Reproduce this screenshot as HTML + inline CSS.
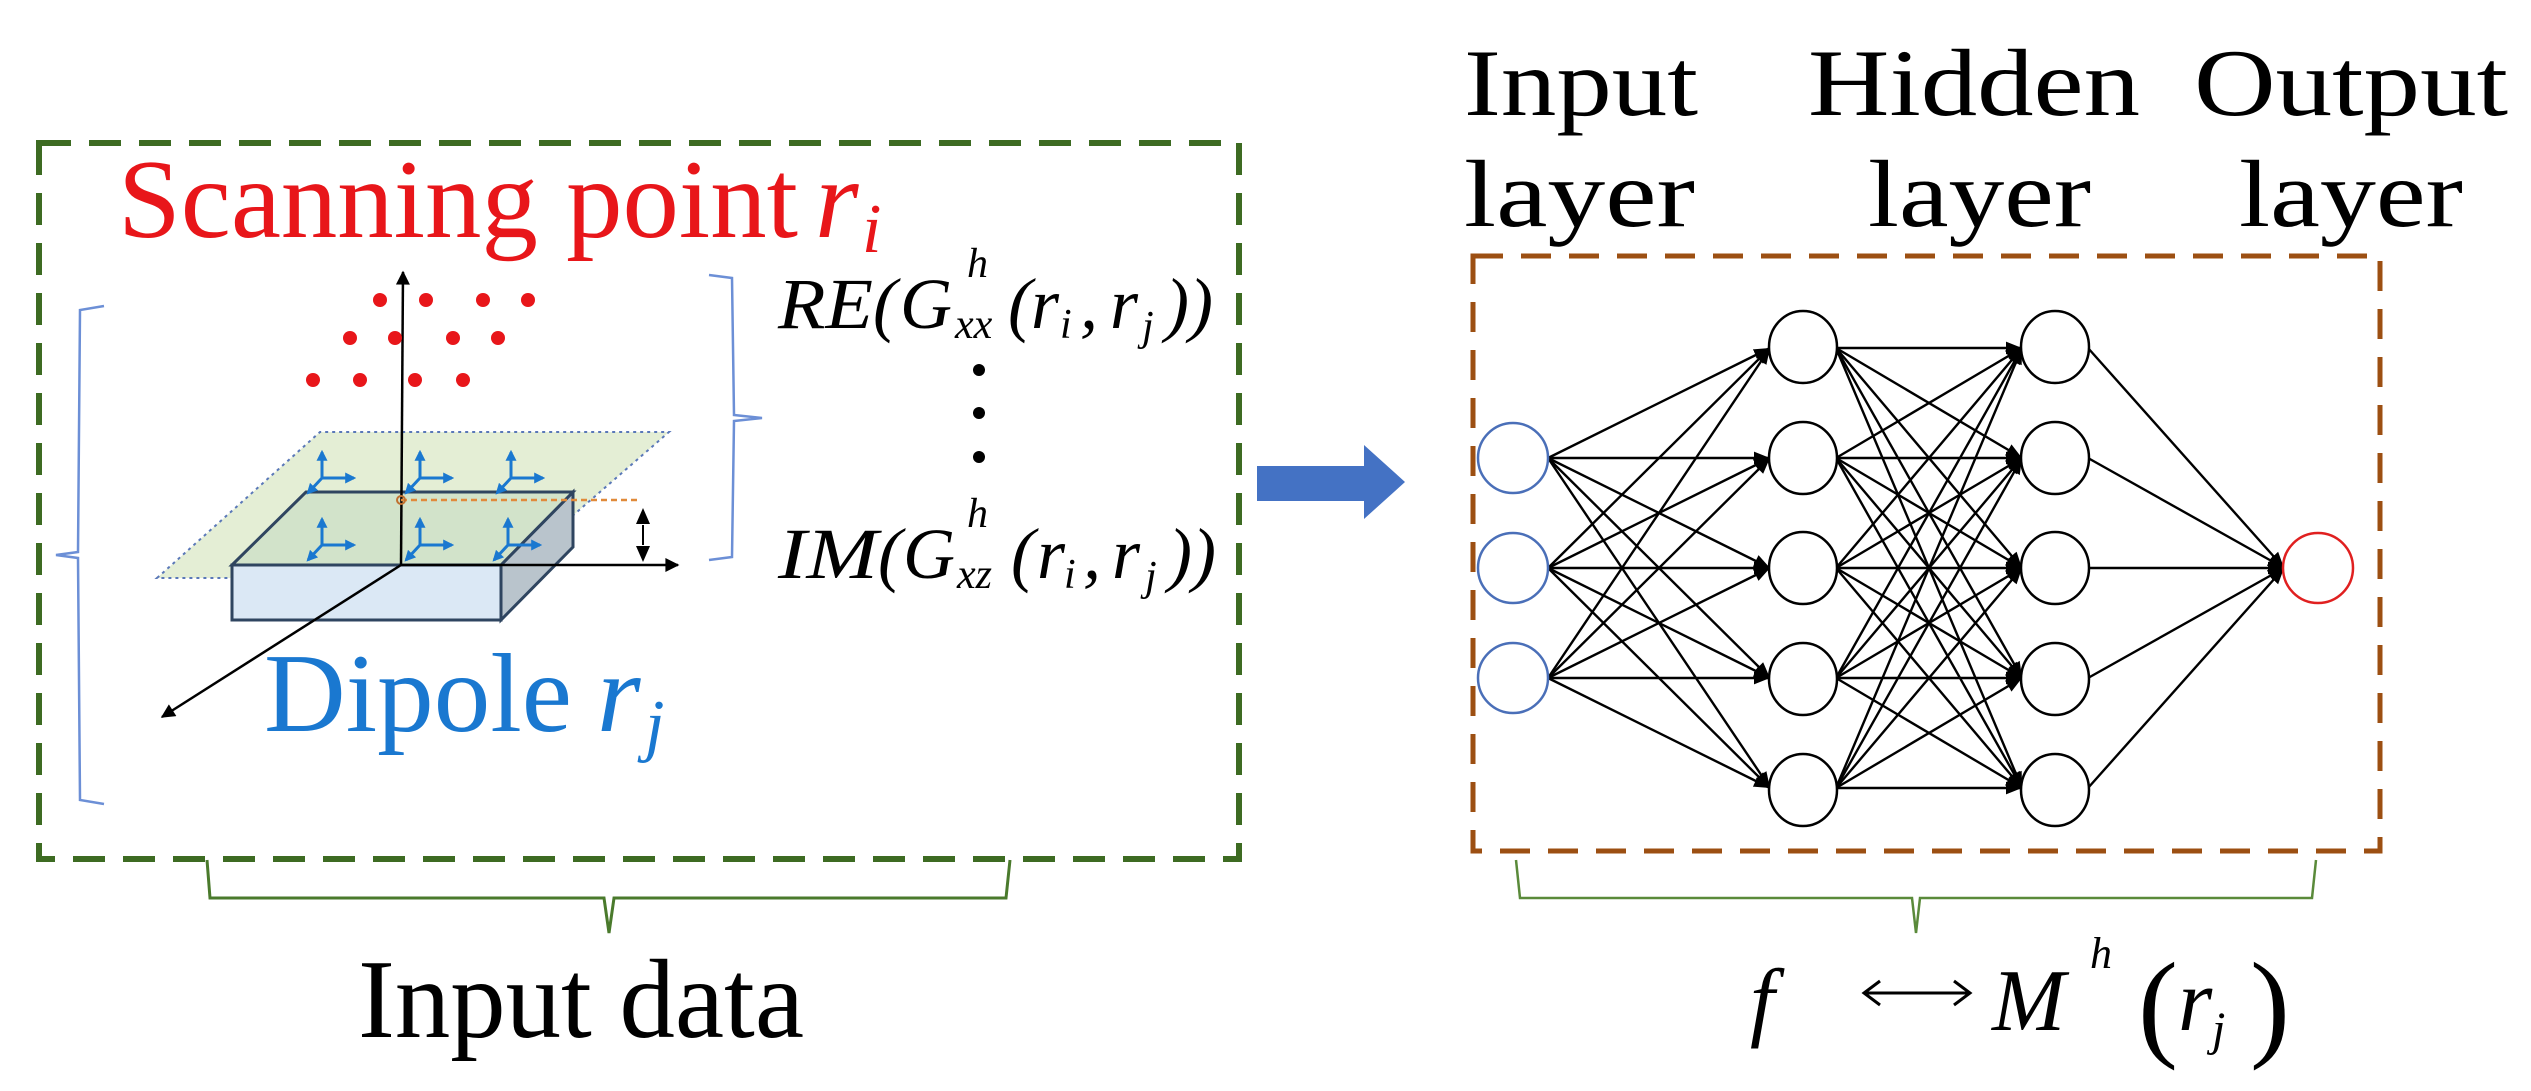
<!DOCTYPE html>
<html><head><meta charset="utf-8"><style>
html,body{margin:0;padding:0;background:#fff;}
svg{display:block;}
</style></head><body>
<svg width="2531" height="1091" viewBox="0 0 2531 1091" xmlns="http://www.w3.org/2000/svg" font-family="'Liberation Serif', 'DejaVu Serif', serif">
<defs>
<marker id="ax" viewBox="0 0 10 10" refX="9" refY="5" markerWidth="16" markerHeight="14" orient="auto" markerUnits="userSpaceOnUse"><path d="M0,0 L10,5 L0,10 z" fill="#000"/></marker>
<marker id="bl" viewBox="0 0 10 10" refX="8" refY="5" markerWidth="11" markerHeight="11" orient="auto" markerUnits="userSpaceOnUse"><path d="M0,0 L10,5 L0,10 z" fill="#1a78d0"/></marker>
<marker id="nh" viewBox="0 0 10 10" refX="10" refY="5" markerWidth="16" markerHeight="16" orient="auto" markerUnits="userSpaceOnUse"><path d="M0,1 L10,5 L0,9 z" fill="#000"/></marker>
</defs>

<!-- left green dashed box -->
<rect x="39" y="143" width="1200" height="716" fill="none" stroke="#3d6b22" stroke-width="6" stroke-dasharray="32,18"/>
<path d="M207,860 L210,898 L604,898 L609,933 L614,898 L1006,898 L1010,860" fill="none" stroke="#4a7a2c" stroke-width="3"/>
<text x="358" y="1037" font-size="112" fill="#000" textLength="446" lengthAdjust="spacingAndGlyphs">Input data</text>

<!-- Scanning point -->
<text x="118" y="237" font-size="112" fill="#e8161a" textLength="680" lengthAdjust="spacingAndGlyphs">Scanning point</text>
<text x="815" y="237" font-size="112" fill="#e8161a" font-style="italic">r</text>
<text x="862" y="252" font-size="70" fill="#e8161a" font-style="italic">i</text>

<!-- blue brackets -->
<path d="M104,306 L80,310 L78,552 L56,555 L78,558 L80,800 L104,804" fill="none" stroke="#6c8fd6" stroke-width="2.5"/>
<path d="M709,275 L732,278 L734,415 L762,418 L734,421 L732,557 L709,560" fill="none" stroke="#6c8fd6" stroke-width="2.5"/>

<!-- plane & slab -->
<polygon points="157,578 320,432 669,432 501,578" fill="#e4eed5" stroke="#5a78b8" stroke-width="2" stroke-dasharray="3,4"/>
<polygon points="232,565 501,565 501,620 232,620" fill="#dbe8f5" stroke="#2f4560" stroke-width="3"/>
<polygon points="501,565 573,492 573,547 501,620" fill="#b9c4cc" stroke="#2f4560" stroke-width="3"/>
<polygon points="232,565 306,492 573,492 501,565" fill="#cfe0c8" fill-opacity="0.85" stroke="#2f4560" stroke-width="3"/>

<line x1="401" y1="565" x2="403" y2="272" stroke="#000" stroke-width="2.5" marker-end="url(#ax)"/>
<line x1="401" y1="565" x2="678" y2="565" stroke="#000" stroke-width="2.5" marker-end="url(#ax)"/>
<line x1="401" y1="565" x2="162" y2="717" stroke="#000" stroke-width="2.5" marker-end="url(#ax)"/>
<line x1="401" y1="500" x2="641" y2="500" stroke="#e08a3a" stroke-width="2.5" stroke-dasharray="6,4"/>
<circle cx="401" cy="500" r="4" fill="none" stroke="#c07030" stroke-width="2"/>
<line x1="643" y1="525" x2="643" y2="545" stroke="#000" stroke-width="2"/>
<path d="M636,524 L643,508 L650,524 z M636,546 L643,562 L650,546 z" fill="#000"/>

<g stroke="#1a78d0" stroke-width="3" fill="none">
<line x1="322" y1="478" x2="322" y2="452" marker-end="url(#bl)"/><line x1="322" y1="478" x2="354" y2="478" marker-end="url(#bl)"/><line x1="322" y1="478" x2="308" y2="493" marker-end="url(#bl)"/>
<line x1="420" y1="478" x2="420" y2="452" marker-end="url(#bl)"/><line x1="420" y1="478" x2="452" y2="478" marker-end="url(#bl)"/><line x1="420" y1="478" x2="406" y2="493" marker-end="url(#bl)"/>
<line x1="511" y1="478" x2="511" y2="452" marker-end="url(#bl)"/><line x1="511" y1="478" x2="543" y2="478" marker-end="url(#bl)"/><line x1="511" y1="478" x2="497" y2="493" marker-end="url(#bl)"/>
<line x1="322" y1="545" x2="322" y2="519" marker-end="url(#bl)"/><line x1="322" y1="545" x2="354" y2="545" marker-end="url(#bl)"/><line x1="322" y1="545" x2="308" y2="560" marker-end="url(#bl)"/>
<line x1="420" y1="545" x2="420" y2="519" marker-end="url(#bl)"/><line x1="420" y1="545" x2="452" y2="545" marker-end="url(#bl)"/><line x1="420" y1="545" x2="406" y2="560" marker-end="url(#bl)"/>
<line x1="508" y1="545" x2="508" y2="519" marker-end="url(#bl)"/><line x1="508" y1="545" x2="540" y2="545" marker-end="url(#bl)"/><line x1="508" y1="545" x2="494" y2="560" marker-end="url(#bl)"/>
</g>

<g fill="#e8161a">
<circle cx="380" cy="300" r="7"/><circle cx="426" cy="300" r="7"/><circle cx="483" cy="300" r="7"/><circle cx="528" cy="300" r="7"/>
<circle cx="350" cy="338" r="7"/><circle cx="395" cy="338" r="7"/><circle cx="453" cy="338" r="7"/><circle cx="498" cy="338" r="7"/>
<circle cx="313" cy="380" r="7"/><circle cx="360" cy="380" r="7"/><circle cx="415" cy="380" r="7"/><circle cx="463" cy="380" r="7"/>
</g>

<text x="264" y="731" font-size="112" fill="#1a78d0" textLength="308" lengthAdjust="spacingAndGlyphs">Dipole</text>
<text x="597" y="731" font-size="112" fill="#1a78d0" font-style="italic">r</text>
<text x="645" y="748" font-size="70" fill="#1a78d0" font-style="italic">j</text>

<!-- formulas -->
<g font-style="italic" fill="#000" font-size="72">
<text x="778" y="328" textLength="95" lengthAdjust="spacingAndGlyphs">RE</text>
<text x="873" y="328">(</text><text x="900" y="328">G</text>
<text x="955" y="338" font-size="42">xx</text><text x="967" y="277" font-size="42">h</text>
<text x="1008" y="328">(</text><text x="1031" y="328">r</text><text x="1060" y="338" font-size="42">i</text>
<text x="1080" y="328">,</text><text x="1110" y="328">r</text><text x="1142" y="340" font-size="42">j</text>
<text x="1165" y="328">))</text>

<text x="778" y="578" textLength="100" lengthAdjust="spacingAndGlyphs">IM</text>
<text x="878" y="578">(</text><text x="903" y="578">G</text>
<text x="957" y="588" font-size="42">xz</text><text x="967" y="527" font-size="42">h</text>
<text x="1011" y="578">(</text><text x="1037" y="578">r</text><text x="1064" y="588" font-size="42">i</text>
<text x="1083" y="578">,</text><text x="1112" y="578">r</text><text x="1145" y="590" font-size="42">j</text>
<text x="1168" y="578">))</text>
</g>
<circle cx="979" cy="370" r="6" fill="#000"/><circle cx="979" cy="413" r="6" fill="#000"/><circle cx="979" cy="457" r="6" fill="#000"/>

<polygon points="1257,466 1364,466 1364,445 1405,482 1364,519 1364,501 1257,501" fill="#4472c4"/>

<g font-size="95" fill="#000">
<text x="1464" y="115" textLength="234" lengthAdjust="spacingAndGlyphs">Input</text>
<text x="1464" y="226" textLength="231" lengthAdjust="spacingAndGlyphs">layer</text>
<text x="1808" y="115" textLength="332" lengthAdjust="spacingAndGlyphs">Hidden</text>
<text x="1868" y="226" textLength="223" lengthAdjust="spacingAndGlyphs">layer</text>
<text x="2194" y="115" textLength="314" lengthAdjust="spacingAndGlyphs">Output</text>
<text x="2239" y="226" textLength="224" lengthAdjust="spacingAndGlyphs">layer</text>
</g>

<rect x="1473" y="256" width="907" height="595" fill="none" stroke="#9c4f12" stroke-width="5" stroke-dasharray="30,18"/>

<g stroke="#000" stroke-width="2.4" marker-end="url(#nh)">
<line x1="1548" y1="458" x2="1770" y2="348"/><line x1="1548" y1="458" x2="1770" y2="458"/><line x1="1548" y1="458" x2="1770" y2="568"/><line x1="1548" y1="458" x2="1770" y2="678"/><line x1="1548" y1="458" x2="1770" y2="788"/>
<line x1="1548" y1="568" x2="1770" y2="348"/><line x1="1548" y1="568" x2="1770" y2="458"/><line x1="1548" y1="568" x2="1770" y2="568"/><line x1="1548" y1="568" x2="1770" y2="678"/><line x1="1548" y1="568" x2="1770" y2="788"/>
<line x1="1548" y1="678" x2="1770" y2="348"/><line x1="1548" y1="678" x2="1770" y2="458"/><line x1="1548" y1="678" x2="1770" y2="568"/><line x1="1548" y1="678" x2="1770" y2="678"/><line x1="1548" y1="678" x2="1770" y2="788"/>
<line x1="1836" y1="348" x2="2022" y2="348"/><line x1="1836" y1="348" x2="2022" y2="458"/><line x1="1836" y1="348" x2="2022" y2="568"/><line x1="1836" y1="348" x2="2022" y2="678"/><line x1="1836" y1="348" x2="2022" y2="788"/>
<line x1="1836" y1="458" x2="2022" y2="348"/><line x1="1836" y1="458" x2="2022" y2="458"/><line x1="1836" y1="458" x2="2022" y2="568"/><line x1="1836" y1="458" x2="2022" y2="678"/><line x1="1836" y1="458" x2="2022" y2="788"/>
<line x1="1836" y1="568" x2="2022" y2="348"/><line x1="1836" y1="568" x2="2022" y2="458"/><line x1="1836" y1="568" x2="2022" y2="568"/><line x1="1836" y1="568" x2="2022" y2="678"/><line x1="1836" y1="568" x2="2022" y2="788"/>
<line x1="1836" y1="678" x2="2022" y2="348"/><line x1="1836" y1="678" x2="2022" y2="458"/><line x1="1836" y1="678" x2="2022" y2="568"/><line x1="1836" y1="678" x2="2022" y2="678"/><line x1="1836" y1="678" x2="2022" y2="788"/>
<line x1="1836" y1="788" x2="2022" y2="348"/><line x1="1836" y1="788" x2="2022" y2="458"/><line x1="1836" y1="788" x2="2022" y2="568"/><line x1="1836" y1="788" x2="2022" y2="678"/><line x1="1836" y1="788" x2="2022" y2="788"/>
<line x1="2088" y1="348" x2="2284" y2="568"/><line x1="2088" y1="458" x2="2284" y2="568"/><line x1="2088" y1="568" x2="2284" y2="568"/><line x1="2088" y1="678" x2="2284" y2="568"/><line x1="2088" y1="788" x2="2284" y2="568"/>
</g>
<g fill="#fff" stroke-width="2.5">
<circle cx="1513" cy="458" r="35" stroke="#4a6fb8"/><circle cx="1513" cy="568" r="35" stroke="#4a6fb8"/><circle cx="1513" cy="678" r="35" stroke="#4a6fb8"/>
<g stroke="#000">
<ellipse cx="1803" cy="347" rx="34" ry="36"/><ellipse cx="1803" cy="458" rx="34" ry="36"/><ellipse cx="1803" cy="568" rx="34" ry="36"/><ellipse cx="1803" cy="679" rx="34" ry="36"/><ellipse cx="1803" cy="790" rx="34" ry="36"/>
<ellipse cx="2055" cy="347" rx="34" ry="36"/><ellipse cx="2055" cy="458" rx="34" ry="36"/><ellipse cx="2055" cy="568" rx="34" ry="36"/><ellipse cx="2055" cy="679" rx="34" ry="36"/><ellipse cx="2055" cy="790" rx="34" ry="36"/>
</g>
<circle cx="2318" cy="568" r="35" stroke="#e02020"/>
</g>

<path d="M1516,860 L1520,898 L1912,898 L1916,933 L1920,898 L2312,898 L2316,860" fill="none" stroke="#5a8a3a" stroke-width="2.5"/>
<g font-style="italic" fill="#000">
<text x="1750" y="1030" font-size="88">f</text>
<text x="1992" y="1030" font-size="88">M</text>
<text x="2090" y="968" font-size="44">h</text>
<text x="2178" y="1030" font-size="88">r</text>
<text x="2212" y="1045" font-size="48">j</text>
</g>
<text x="2138" y="1045" font-size="120" fill="#000">(</text>
<text x="2250" y="1045" font-size="120" fill="#000">)</text>
<g stroke="#000" stroke-width="3" fill="none">
<line x1="1864" y1="993" x2="1970" y2="993"/>
<path d="M1880,981 L1864,993 L1880,1005 M1954,981 L1970,993 L1954,1005"/>
</g>
</svg>
</body></html>
